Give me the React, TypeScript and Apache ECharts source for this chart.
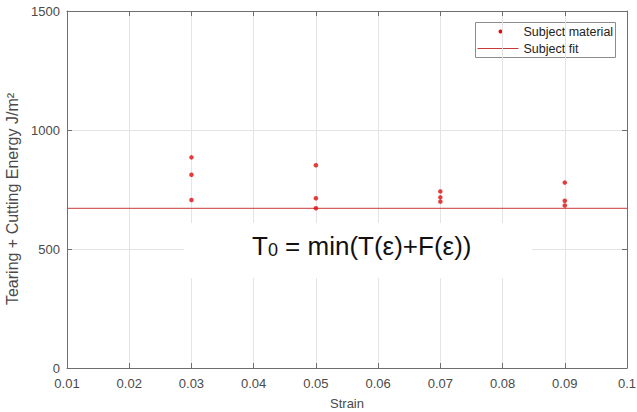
import React, { useEffect, useRef } from 'react';
import * as echarts from 'echarts';

const strainLevels = [0.03, 0.05, 0.07, 0.09];
const energyAt003 = [885, 812, 706];
const energyAt005 = [852, 713, 671];
const energyAt007 = [742, 717, 699];
const energyAt009 = [779, 703, 683];
const energyGroups = [energyAt003, energyAt005, energyAt007, energyAt009];
const fitValue = 671;
const xRange = [0.01, 0.1];
const xStep = 0.01;
const yRange = [0, 1500];
const yStep = 500;
const seriesNames = ['Subject material', 'Subject fit'];
const xAxisTitle = 'Strain';
const yAxisTitle = 'Tearing + Cutting Energy J/m\u00B2';

const FONT = 'Arial, "Liberation Sans", sans-serif';
const AXIS_COLOR = '#6e6e6e';
const LABEL_COLOR = '#4a4a4a';
const POINT_COLOR = '#e00d0d';
const FIT_COLOR = '#c83a3a';

export default function App() {
  const ref = useRef<HTMLDivElement>(null);

  useEffect(() => {
    document.body.style.margin = '0';
    if (!ref.current) return;
    const chart = echarts.init(ref.current, undefined, { renderer: 'svg' });

    const scatterData: number[][] = [];
    strainLevels.forEach((s, i) => {
      energyGroups[i].forEach((v) => scatterData.push([s, v]));
    });
    const fitData = [
      [xRange[0], fitValue],
      [xRange[1], fitValue],
    ];

    const baseX = {
      type: 'value' as const,
      min: xRange[0],
      max: xRange[1],
      interval: xStep,
      axisLine: { show: true, onZero: false, lineStyle: { color: AXIS_COLOR, width: 1 } },
      axisTick: { show: true, inside: true, length: 5, lineStyle: { color: AXIS_COLOR } },
    };
    const baseY = {
      type: 'value' as const,
      min: yRange[0],
      max: yRange[1],
      interval: yStep,
      axisLine: { show: true, onZero: false, lineStyle: { color: AXIS_COLOR, width: 1 } },
      axisTick: { show: true, inside: true, length: 5, lineStyle: { color: AXIS_COLOR } },
    };

    const legendTextStyle = { fontSize: 12.5, fontFamily: FONT, fill: '#222222', verticalAlign: 'middle' as const, align: 'left' as const };

    chart.setOption({
      animation: false,
      backgroundColor: '#ffffff',
      grid: { left: 67, right: 10, top: 11, bottom: 44, containLabel: false, outerBoundsMode: 'none' },
      xAxis: [
        {
          ...baseX,
          position: 'bottom',
          name: xAxisTitle,
          nameLocation: 'middle',
          nameGap: 29,
          nameTextStyle: { fontSize: 13, color: LABEL_COLOR, fontFamily: FONT },
          axisLabel: {
            fontSize: 13,
            color: LABEL_COLOR,
            fontFamily: FONT,
            margin: 9,
            formatter: (v: number) => String(Math.round(v * 100) / 100),
          },
          splitLine: { show: true, lineStyle: { color: '#e4e4e4', width: 1 } },
        },
        {
          ...baseX,
          position: 'top',
          axisLabel: { show: false },
          splitLine: { show: false },
        },
      ],
      yAxis: [
        {
          ...baseY,
          position: 'left',
          name: yAxisTitle,
          nameLocation: 'middle',
          nameGap: 41,
          nameTextStyle: { fontSize: 16, color: LABEL_COLOR, fontFamily: FONT, padding: [0, 19, 0, 0] },
          axisLabel: {
            fontSize: 13,
            color: LABEL_COLOR,
            fontFamily: FONT,
            margin: 7,
            formatter: (v: number) => String(v),
          },
          splitLine: { show: true, lineStyle: { color: '#e4e4e4', width: 1 } },
        },
        {
          ...baseY,
          position: 'right',
          axisLabel: { show: false },
          splitLine: { show: false },
        },
      ],
      series: [
        {
          name: seriesNames[0],
          type: 'scatter',
          data: scatterData,
          symbol: 'circle',
          symbolSize: 4.5,
          itemStyle: { color: POINT_COLOR },
          z: 5,
        },
        {
          name: seriesNames[1],
          type: 'line',
          data: fitData,
          symbol: 'none',
          lineStyle: { color: FIT_COLOR, width: 1 },
          itemStyle: { color: FIT_COLOR },
          z: 4,
        },
      ],
      graphic: [
        {
          type: 'group',
          left: 475,
          top: 22,
          z: 20,
          children: [
            {
              type: 'rect',
              shape: { x: 0, y: 0, width: 140, height: 35 },
              style: { fill: '#ffffff', stroke: '#8c8c8c', lineWidth: 1 },
            },
            {
              type: 'circle',
              shape: { cx: 25, cy: 9, r: 2 },
              style: { fill: POINT_COLOR },
            },
            {
              type: 'text',
              x: 48,
              y: 9,
              style: { text: seriesNames[0], ...legendTextStyle },
            },
            {
              type: 'line',
              shape: { x1: 2, y1: 26, x2: 43, y2: 26 },
              style: { stroke: FIT_COLOR, lineWidth: 1 },
            },
            {
              type: 'text',
              x: 48,
              y: 26,
              style: { text: seriesNames[1], ...legendTextStyle },
            },
          ],
        },
        {
          type: 'rect',
          left: 184,
          top: 223,
          shape: { width: 348, height: 55 },
          style: { fill: '#ffffff' },
          z: 10,
        },
        {
          type: 'text',
          left: 252,
          top: 233,
          z: 11,
          style: {
            text: '{t|T}{s|0}{t| = min(T(\u03B5)+F(\u03B5))}',
            fill: '#111111',
            rich: {
              t: { fontSize: 26, fontFamily: FONT, lineHeight: 30, verticalAlign: 'middle', fill: '#111111' },
              s: { fontSize: 18, fontFamily: FONT, lineHeight: 30, verticalAlign: 'bottom', fill: '#111111', padding: [0, 0, 2, 0] },
            },
          },
        },
      ],
    });

    return () => chart.dispose();
  }, []);

  return <div ref={ref} style={{ width: 637, height: 412 }} />;
}
